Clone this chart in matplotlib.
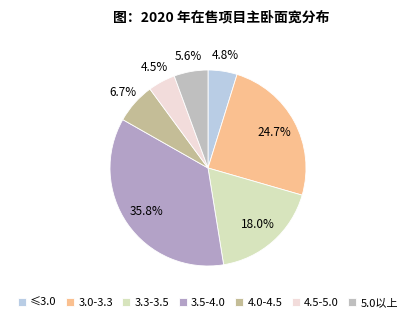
import matplotlib
matplotlib.use("Agg")
import matplotlib.pyplot as plt
import numpy as np

plt.rcParams['font.family'] = ['Noto Sans CJK SC', 'DejaVu Sans']

# data
categories = ['≤3.0', '3.0-3.3', '3.3-3.5', '3.5-4.0', '4.0-4.5', '4.5-5.0', '5.0以上']
shares = [4.8, 24.7, 18.0, 35.8, 6.7, 4.5, 5.6]
colors = ['#B9CDE5', '#FAC090', '#D7E4BD', '#B3A2C7', '#C4BD97', '#F2DCDB', '#BFBFBF']
title = '图：2020 年在售项目主卧面宽分布'

W, H = 411, 324
fig = plt.figure(figsize=(W / 100, H / 100), dpi=100)
fig.patch.set_facecolor('white')

# pie centre (208, 168) px, radius 98 px
cx, cy, r = 208, 168, 98
ax = fig.add_axes([(cx - r) / W, (H - cy - r) / H, 2 * r / W, 2 * r / H])

wedges, _ = ax.pie(shares, colors=colors, startangle=90, counterclock=False,
                   wedgeprops=dict(edgecolor='white', linewidth=0.6))
ax.set_xlim(-1, 1)
ax.set_ylim(-1, 1)
ax.set_aspect('equal')
ax.axis('off')

# percentage labels: big slices inside, small ones outside
for w, v in zip(wedges, shares):
    ang = np.deg2rad((w.theta1 + w.theta2) / 2)
    d = 0.77 if v > 10 else 1.16
    ax.text(d * np.cos(ang), d * np.sin(ang), f'{v:.1f}%', ha='center', va='center',
            fontsize=8.5, color='#000000')

fig.text(221 / W, 1 - 17 / H, title, ha='center', va='center',
         fontsize=10, fontweight='bold')

fig.legend(wedges, categories, loc='center', bbox_to_anchor=(208 / W, 1 - 303 / H),
           ncol=7, frameon=False, fontsize=8, handlelength=0.7, handleheight=0.7,
           handletextpad=0.4, columnspacing=0.85, borderaxespad=0, borderpad=0)

fig.savefig('out.png', dpi=100)
